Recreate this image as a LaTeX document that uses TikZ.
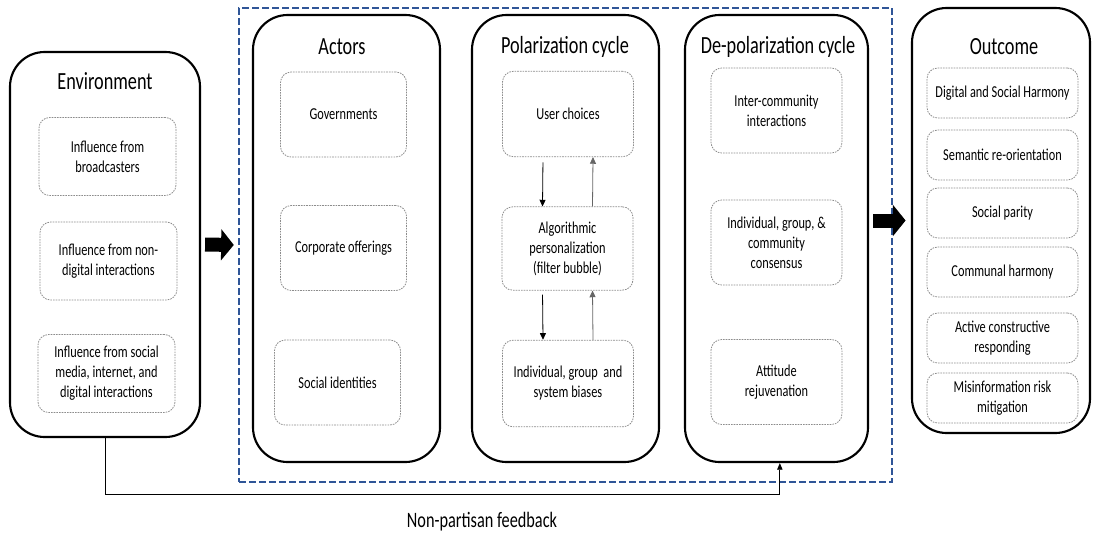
\documentclass[tikz,border=0pt]{standalone}
\usepackage{fontspec}
\setmainfont{Carlito}[FakeStretch=0.74]
\usetikzlibrary{arrows.meta}
\definecolor{frameblue}{RGB}{47,85,151}

\begin{document}
\begin{tikzpicture}[
  x=0.75pt, y=-0.75pt,
  panel/.style={draw=black, line width=1.6pt, rounded corners=26pt,
                minimum width=140.25pt, minimum height=335.25pt, inner sep=0pt},
  item/.style={draw=black!45, dash pattern=on 1.2pt off 0.8pt, line width=0.6pt,
               rounded corners=8pt, align=center, inner sep=2pt,
               font=\fontsize{12.5}{15}\selectfont},
  ttl/.style={font=\fontsize{18.5}{22}\selectfont, inner sep=0pt},
  frame/.style={draw=frameblue, line width=1.8pt, dash pattern=on 5.25pt off 2.25pt,
                minimum width=489.75pt, minimum height=355.5pt, inner sep=0pt},
  flow/.style={-{Triangle[length=5pt, width=4.5pt]}, line width=0.6pt, draw=black},
  backflow/.style={-{Triangle[length=5pt, width=4.5pt]}, line width=0.6pt, draw=black!60},
  block/.style={-{Triangle[length=9.5pt, width=23pt]}, line width=10.5pt, draw=black},
  fb/.style={-{Triangle[length=5pt, width=4pt]}, line width=0.7pt, draw=black}
]
  \useasboundingbox (0,0) rectangle (1093,536);

  % ========== dashed frame ==========
  \node[frame] (frm) at (565.5,245) {};

  % ========== Environment ==========
  \node[panel, minimum width=142.5pt, minimum height=288.75pt] (env) at (105,244.5) {};
  \node[ttl] (envT) at (105,81) {Environment};
  \node[item, minimum width=102.75pt, minimum height=58.5pt] (e1) at (107.5,156.5)
    {Influence from\\broadcasters};
  \node[item, minimum width=102.75pt, minimum height=58.5pt] (e2) at (108.5,261)
    {Influence from non-\\digital interactions};
  \node[item, minimum width=102.75pt, minimum height=58.5pt] (e3) at (106.5,373.5)
    {Influence from social\\media, internet, and\\digital interactions};

  % ========== Actors ==========
  \node[panel] (act) at (346.5,238.5) {};
  \node[ttl] (actT) at (342,47) {Actors};
  \node[item, minimum width=94.5pt, minimum height=63.75pt] (a1) at (343.5,114.5)
    {Governments};
  \node[item, minimum width=94.5pt, minimum height=63.75pt] (a2) at (343.5,248)
    {Corporate offerings};
  \node[item, minimum width=94.5pt, minimum height=63.75pt] (a3) at (337.5,382.5)
    {Social identities};

  % ========== Polarization cycle ==========
  \node[panel] (pol) at (565.5,238.5) {};
  \node[ttl] (polT) at (565,47) {Polarization cycle};
  \node[item, minimum width=98.25pt, minimum height=64pt] (p1) at (568,114)
    {User choices};
  \node[item, minimum width=98.25pt, minimum height=62.5pt] (p2) at (567.5,248.5)
    {Algorithmic\\personalization\\(filter bubble)};
  \node[item, minimum width=98.25pt, minimum height=65pt] (p3) at (568,383.5)
    {Individual, group~ and\\system biases};

  \draw[flow, shorten <=4pt] ([xshift=-18.75pt]p1.south) -- ([xshift=-18.75pt]p2.north);
  \draw[backflow] ([xshift=18.75pt]p2.north) -- ([xshift=18.75pt]p1.south);
  \draw[flow, shorten <=3pt] ([xshift=-18.75pt]p2.south) -- ([xshift=-18.75pt]p3.north);
  \draw[backflow] ([xshift=18.75pt]p3.north) -- ([xshift=18.75pt]p2.south);

  % ========== De-polarization cycle ==========
  \node[panel, minimum width=137.25pt] (dep) at (776.5,238.5) {};
  \node[ttl] (depT) at (778,47) {De-polarization cycle};
  \node[item, minimum width=98.25pt, minimum height=63.75pt] (d1) at (776.5,110.5)
    {Inter-community\\interactions};
  \node[item, minimum width=98.25pt, minimum height=63.75pt] (d2) at (776.5,242.5)
    {Individual, group, \&\\community\\consensus};
  \node[item, minimum width=98.25pt, minimum height=63.75pt] (d3) at (776.5,382)
    {Attitude\\rejuvenation};

  % ========== Outcome ==========
  \node[panel, minimum width=133.5pt, minimum height=318.75pt] (out) at (1001,220.5) {};
  \node[ttl] (outT) at (1004,47) {Outcome};
  \node[item, minimum width=113.25pt, minimum height=37.5pt] (o1) at (1002.5,93)
    {Digital and Social Harmony};
  \node[item, minimum width=113.25pt, minimum height=37.5pt] (o2) at (1002.5,155)
    {Semantic re-orientation};
  \node[item, minimum width=113.25pt, minimum height=37.5pt] (o3) at (1002.5,213)
    {Social parity};
  \node[item, minimum width=113.25pt, minimum height=37.5pt] (o4) at (1002.5,272)
    {Communal harmony};
  \node[item, minimum width=113.25pt, minimum height=37.5pt] (o5) at (1002.5,338)
    {Active constructive\\responding};
  \node[item, minimum width=113.25pt, minimum height=37.5pt] (o6) at (1002.5,398)
    {Misinformation risk\\mitigation};

  % ========== block arrows ==========
  \draw[block, shorten <=3pt, shorten >=3pt] (env.east) -- (frm.west);
  \draw[block, shorten <=3pt, shorten >=4pt] (dep.east |- out.west) -- (out.west);

  % ========== feedback ==========
  \coordinate (fbrow) at (0,494);
  \draw[fb] (env.south) -- (env.south |- fbrow) -| ([xshift=2.5pt]dep.south);
  \node[inner sep=0pt, font=\fontsize{16.5}{19}\selectfont] (fbT) at (482,522)
    {Non-partisan feedback};

\end{tikzpicture}
\end{document}
